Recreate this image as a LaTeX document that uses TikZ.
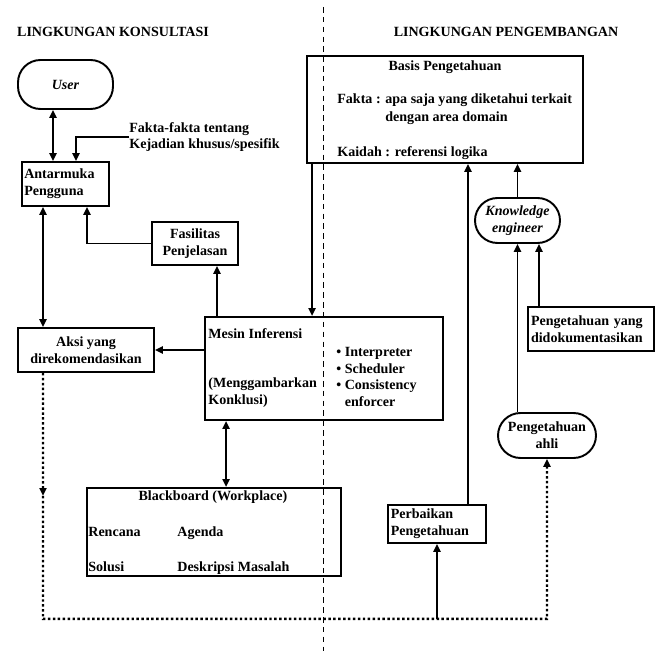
\documentclass[tikz,border=0pt]{standalone}
\usepackage{fontspec}
\setmainfont{Liberation Serif}
\usetikzlibrary{arrows.meta,calc}

\begin{document}
\begin{tikzpicture}[x=0.02cm, y=-0.02cm, >={Triangle[length=4.5pt,width=4pt]},
    font=\fontsize{8}{9.6}\selectfont\bfseries,
    box/.style={draw, line width=1.1pt, inner sep=1.5pt},
    oval/.style={draw, line width=1.1pt, rounded corners=0.45cm, align=center, inner sep=1pt},
    link/.style={line width=1.1pt},
    flow/.style={line width=1.4pt, dash pattern=on 1.4pt off 1.4pt},
    label/.style={anchor=west, inner sep=0pt, align=left},
    item/.style={anchor=base west, inner sep=0pt}]
    \useasboundingbox (0,0) rectangle (655,651);

    % garis batas dua lingkungan
    \draw[line width=0.5pt, dash pattern=on 3.2pt off 2.4pt] (323,7) -- (323,651);
    \node (kons) at (113,32) {LINGKUNGAN KONSULTASI};
    \node (peng) at (506,32) {LINGKUNGAN PENGEMBANGAN};

    % lingkungan konsultasi
    \node[oval, minimum width=1.9cm, minimum height=0.98cm, font=\fontsize{8}{9.6}\selectfont\bfseries\itshape] (user) at (65.5,84.5) {User};
    \node[box, minimum height=0.88cm, text width=1.65cm, align=left] (antar) at (65.5,184) {Antarmuka\\Pengguna};
    \node[label] (fakta) at (129,137) {Fakta-fakta tentang\\Kejadian khusus/spesifik};
    \node[box, minimum width=1.72cm, minimum height=0.86cm, align=center] (fasil) at (195,243.5) {Fasilitas\\Penjelasan};
    \node[box, minimum width=2.72cm, minimum height=0.88cm, align=center] (aksi) at (86,350) {Aksi yang\\direkomendasikan};

    \node[box, minimum width=4.76cm, minimum height=2.06cm] (mesin) at (324,368.5) {};
    \node[label] (mesinT) at (208,334) {Mesin Inferensi};
    \node[label] (konklusi) at (208,393) {(Menggambarkan\\Konklusi)};
    \node[label] (tugas) at (336,377) {\textbullet\ Interpreter\\\textbullet\ Scheduler\\\textbullet\ Consistency\\\phantom{\textbullet\ }enforcer};

    \node[box, minimum width=5.08cm, minimum height=1.76cm] (black) at (214,532) {};
    \node (blackT) at (213,497) {Blackboard (Workplace)};
    \node[item] (rencana) at (88,536) {Rencana};
    \node[item] (agenda) at (177,536) {Agenda};
    \node[item] (solusi) at (88,571) {Solusi};
    \node[item] (deskripsi) at (177,571) {Deskripsi Masalah};

    % lingkungan pengembangan
    \node[box, minimum width=5.52cm, minimum height=2.14cm] (basis) at (445,109.5) {};
    \node (basisT) at (445,67) {Basis Pengetahuan};
    \node[label] (faktaB) at (337,100) {Fakta : apa saja yang diketahui terkait};
    \node[label] (domain) at (385,118) {dengan area domain};
    \node[label] (kaidah) at (337,153) {Kaidah : referensi logika};

    \node[oval, minimum width=1.7cm, minimum height=0.9cm, font=\fontsize{8}{9.6}\selectfont\bfseries\itshape] (knowl) at (517.5,220.5) {Knowledge\\engineer};
    \node[box, minimum height=0.88cm, text width=2.4cm, align=left] (dokum) at (591,329) {Pengetahuan yang\\didokumentasikan};
    \node[oval, minimum width=1.96cm, minimum height=0.9cm] (ahli) at (547,435.5) {Pengetahuan\\ahli};
    \node[box, minimum height=0.76cm, text width=1.85cm, align=left] (perb) at (437,524) {Perbaikan\\Pengetahuan};

    % koneksi
    \draw[link,<->] ($(user.south)+(-12.5,0)$) -- ($(antar.north)+(-12.5,0)$);
    \draw[link,->] (fakta.west) -| ($(antar.north)+(10.5,0)$);
    \coordinate (ax) at ($(aksi.north)+(-43,0)$);
    \draw[link,<->] (antar.south -| ax) -- (ax);
    \draw[link,->] (fasil.west) -| ($(antar.south)+(21.5,0)$);
    \coordinate (fx) at ($(fasil.south)+(22,0)$);
    \draw[link,->] (mesin.north -| fx) -- (fx);
    \draw[link,->] (mesin.west |- aksi.east) -- (aksi.east);
    \coordinate (bx) at ($(basis.south west)+(6,0)$);
    \draw[link,->] (bx) -- (mesin.north -| bx);
    \coordinate (mx) at ($(mesin.south west)+(22,0)$);
    \draw[link,<->] (mx) -- (black.north -| mx);

    \coordinate (px) at ($(perb.north)+(31,0)$);
    \draw[link,->] (px) -- (basis.south -| px);
    \draw[link,->] (knowl.north) -- (basis.south -| knowl.north);
    \draw[link,->] (ahli.north -| knowl.south) -- (knowl.south);
    \coordinate (kx) at ($(knowl.south)+(21.5,0)$);
    \draw[link,->] (dokum.north -| kx) -- (kx);

    % alur umpan balik
    \coordinate (as) at (aksi.south -| ax);
    \coordinate (dl) at ($(as)+(0,246)$);
    \draw[flow,->] (as) -- ($(as)!0.5!(dl)$);
    \draw[flow,->] ($(as)!0.5!(dl)$) -- (dl) -| (ahli.south);
    \draw[link,->] (perb.south |- dl) -- (perb.south);
\end{tikzpicture}
\end{document}
